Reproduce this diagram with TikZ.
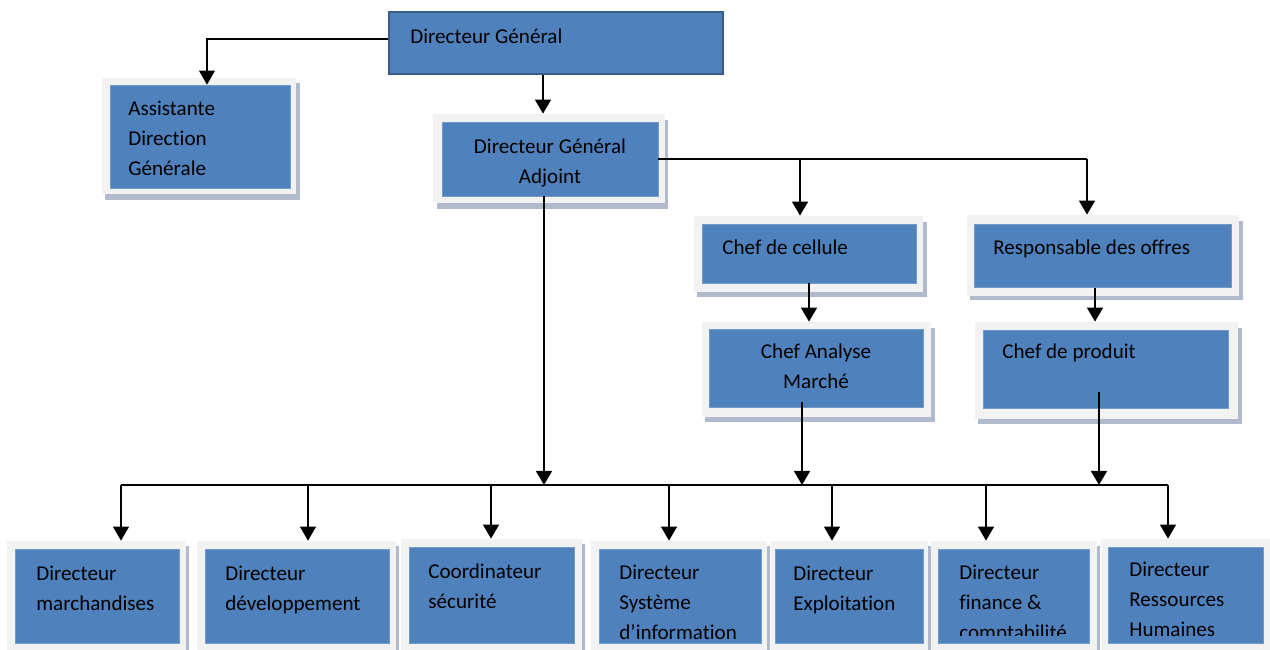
\documentclass[tikz,border=0pt]{standalone}
\usepackage{fontspec}
\setmainfont{Carlito}[Ligatures=NoCommon]
\usetikzlibrary{arrows.meta,fit,calc}
\definecolor{boxblue}{RGB}{79,129,189}
\definecolor{boxedge}{RGB}{56,93,138}
\definecolor{framegray}{RGB}{242,242,242}
\definecolor{shadowgray}{RGB}{176,186,204}

\begin{document}
\begin{tikzpicture}[x=0.02cm, y=-0.02cm, >={Triangle[width=9pt,length=8pt]},
  unit/.style={fill=boxblue, draw=boxblue!80!white, line width=0.4pt, inner sep=0pt},
  frame/.style={fill=framegray, inner sep=0pt},
  shadow/.style={fill=shadowgray},
  txt/.style={anchor=base west, align=left, inner sep=0pt, font=\fontsize{12}{17.07}\selectfont},
  link/.style={line width=1.1pt}]

  \useasboundingbox (0,0) rectangle (1270,649);

  % Directeur General
  \node[unit, draw=boxedge, line width=1.2pt, fit={(389,12) (723,74)}] (dg) {};
  \node[txt] (dgt) at (410,43) {Directeur Général};

  % Assistante (text placed by its last baseline)
  \fill[shadow] (105,83) rectangle (300,200);
  \node[frame, fit={(102,78) (296,194)}] (asstf) {};
  \node[unit, fit={(110,85) (290,188)}] (asst) {};
  \node[txt] (asstt) at (128,175) {Assistante\\Direction\\Générale};

  % Directeur General Adjoint
  \fill[shadow] (437,120) rectangle (668,209);
  \node[frame, fit={(433,114) (665,203)}] (dgaf) {};
  \node[unit, fit={(442,122) (658,196)}] (dga) {};
  \node[txt, anchor=base, align=center] (dgat) at (550,183) {Directeur Général\\Adjoint};

  % Chef de cellule / Responsable des offres
  \fill[shadow] (697,222) rectangle (927,297);
  \node[frame, fit={(694,216) (923,292)}] (cellf) {};
  \node[unit, fit={(702,224) (916,283)}] (cell) {};
  \node[txt] (cellt) at (722,254) {Chef de cellule};

  \fill[shadow] (970,221) rectangle (1243,300);
  \node[frame, fit={(967,215) (1239,296)}] (respf) {};
  \node[unit, fit={(974,224) (1231,287)}] (resp) {};
  \node[txt] (respt) at (993,254) {Responsable des offres};

  % Chef Analyse Marche / Chef de produit
  \fill[shadow] (705,328) rectangle (935,422);
  \node[frame, fit={(702,322) (931,417)}] (camf) {};
  \node[unit, fit={(709,329) (923,407)}] (cam) {};
  \node[txt, anchor=base, align=center] (camt) at (816,388) {Chef Analyse\\Marché};

  \fill[shadow] (978,328) rectangle (1242,424);
  \node[frame, fit={(975,322) (1238,419)}] (prodf) {};
  \node[unit, fit={(983,330) (1228,408)}] (prod) {};
  \node[txt] (prodt) at (1002,358) {Chef de produit};

  % bottom row
  \foreach \i/\fa/\fb/\ft/\ia/\ib/\it in {1/7/186/541/15/179/549, 2/197/396/541/205/389/549,
      3/401/582/539/409/574/547, 4/591/767/541/599/761/549, 5/771/928/541/775/923/549,
      6/931/1097/541/938/1089/549, 7/1101/1280/539/1108/1263/547} {
    \fill[shadow] (\fb,\ft+5) rectangle (\fb+3,660);
    \node[frame, fit={(\fa,\ft) (\fb,660)}] (f\i) {};
    \node[unit, fit={(\ia,\it) (\ib,643)}] (m\i) {};
  }
  \node[txt] (m1t) at (36,610) {Directeur\\marchandises};
  \node[txt] (m2t) at (225,610) {Directeur\\développement};
  \node[txt] (m3t) at (428,608) {Coordinateur\\sécurité};
  \node[txt] (m4t) at (619,639) {Directeur\\Système\\d’information};
  \node[txt] (m5t) at (793,610) {Directeur\\Exploitation};
  \begin{scope}
    \clip (938,547) rectangle (1089,635);
    \node[txt] (m6t) at (959,639) {Directeur\\finance \&\\comptabilité};
  \end{scope}
  \node[txt] (m7t) at (1129,636) {Directeur\\Ressources\\Humaines};

  % connectors
  \coordinate (ja) at (207,39);
  \coordinate (jb) at (543,75);
  \coordinate (jc) at (800,159);
  \coordinate (jd) at (1087,159);
  \coordinate (je) at (1095,288);
  \draw[line width=0.9pt, ->] (dg.west |- ja) -- (ja) -- (ja |- asst.north);
  \draw[link, ->] (jb) -- (jb |- dgaf.north);
  \draw[link] (dga.east |- jc) -- (jd);
  \draw[link, ->] (jc) -- (jc |- cellf.north);
  \draw[link, ->] (jd) -- (jd |- respf.north);
  \draw[link, ->] (cell.south) -- (cell.south |- camf.north);
  \draw[link, ->] (je) -- (je |- prodf.north);

  % bus to the directors
  \foreach \i/\x in {1/121, 2/308, 3/491, 4/669, 5/832, 6/986, 7/1168}
    \coordinate (b\i) at (\x,485);
  \coordinate (bd) at (544,485);
  \coordinate (bc) at (802,485);
  \coordinate (bp) at (1099,485);
  \draw[link] (b1) -- (b7);
  \draw[link, ->] (bd |- dga.south) -- (bd);
  \draw[link, ->] ($(bc |- cam.south)+(0,-5)$) -- (bc);
  \draw[link, ->] ($(bp |- prod.south)+(0,-16)$) -- (bp);
  \foreach \i in {1,...,7}
    \draw[link, ->] (b\i) -- (b\i |- f\i.north);
\end{tikzpicture}
\end{document}
